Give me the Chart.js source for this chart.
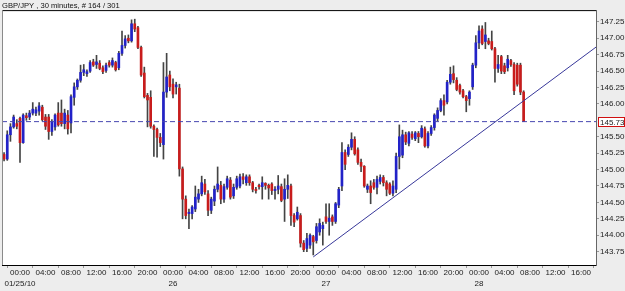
<!DOCTYPE html>
<html><head><meta charset="utf-8">
<script src="https://cdn.jsdelivr.net/npm/chart.js@4.4.1/dist/chart.umd.min.js"></script>
<style>html,body{margin:0;padding:0;background:#ededed;overflow:hidden}</style>
</head><body>
<canvas id="c" width="625" height="291"></canvas>
<script>
// ---- data ----
const chartTitle = 'GBP/JPY , 30 minutes, # 164 / 301';
const firstBarHour = -2.5;   // 21:30 on 01/24/10, hours from 01/25/10 00:00
const barHours = 0.5;        // 30 minute bars
const opens = [145.23,145.16,145.53,145.65,145.70,145.78,145.41,145.82,145.80,145.86,145.86,145.89,145.95,145.80,145.80,145.58,145.65,145.86,145.86,145.70,145.83,145.71,146.10,146.26,146.36,146.48,146.46,146.50,146.64,146.60,146.62,146.55,146.51,146.63,146.59,146.63,146.55,146.77,146.89,147.00,146.96,147.22,147.16,146.86,146.47,146.13,146.10,145.66,145.61,145.49,145.38,146.18,146.44,146.30,146.26,146.24,145.01,144.55,144.33,144.33,144.40,144.55,144.63,144.78,144.63,144.38,144.52,144.70,144.76,144.55,144.73,144.84,144.60,144.73,144.75,144.89,144.80,144.89,144.80,144.70,144.76,144.74,144.79,144.76,144.78,144.68,144.70,144.74,144.55,144.70,144.75,144.30,144.25,144.30,143.88,143.80,143.85,143.98,143.92,144.05,144.10,144.28,144.21,144.28,144.21,144.46,144.75,145.26,145.23,145.34,145.46,145.30,145.11,145.05,144.70,144.75,144.80,144.73,144.82,144.88,144.80,144.78,144.64,144.70,145.20,145.22,145.53,145.40,145.54,145.47,145.55,145.50,145.62,145.36,145.55,145.64,145.78,145.90,146.05,146.03,146.33,146.46,146.36,146.28,146.20,146.11,146.08,146.26,146.59,146.93,147.14,146.95,146.96,146.95,146.84,146.54,146.72,146.58,146.55,146.66,146.60,146.59,146.59,146.18];
const highs = [145.26,145.59,145.70,145.83,145.76,145.80,145.85,145.86,145.90,146.02,145.95,146.02,145.98,145.84,145.84,145.76,145.85,146.02,146.06,145.92,145.90,146.14,146.32,146.38,146.59,146.60,146.52,146.66,146.68,146.74,146.66,146.58,146.62,146.66,146.70,146.65,146.80,147.11,147.04,147.05,147.28,147.29,147.18,146.88,146.56,146.16,146.20,145.68,145.63,145.55,146.63,146.77,146.50,146.38,146.33,146.30,145.04,144.60,144.40,144.45,144.75,144.70,144.90,144.85,144.68,144.58,144.75,145.04,144.82,144.78,144.90,144.88,144.78,144.90,144.93,144.94,144.92,144.92,144.82,144.73,144.78,144.89,144.80,144.78,144.80,144.74,144.91,144.78,144.86,144.92,144.78,144.33,144.43,144.33,143.92,144.03,144.02,144.00,144.18,144.25,144.20,144.48,144.48,144.31,144.50,144.73,145.41,145.30,145.38,145.56,145.50,145.33,145.16,145.06,144.78,144.83,144.85,144.90,144.92,144.91,144.83,144.80,144.83,145.25,145.68,145.60,145.57,145.58,145.58,145.58,145.58,145.67,145.65,145.58,145.67,145.85,145.94,146.08,146.14,146.36,146.56,146.58,146.40,146.30,146.22,146.13,146.20,146.62,147.04,147.19,147.19,147.24,147.00,147.11,146.86,146.74,146.74,146.62,146.74,146.68,146.63,146.62,146.62,146.20];
const lows = [145.13,145.14,145.43,145.63,145.62,145.11,145.40,145.75,145.76,145.83,145.82,145.83,145.74,145.61,145.46,145.52,145.60,145.66,145.66,145.62,145.54,145.56,145.98,146.22,146.33,146.43,146.42,146.48,146.57,146.54,146.52,146.46,146.48,146.56,146.56,146.50,146.52,146.74,146.85,146.93,146.94,147.10,146.84,146.42,146.09,145.65,145.63,145.20,145.19,145.35,145.16,146.10,146.20,146.09,146.15,144.90,144.25,144.25,144.10,144.25,144.36,144.50,144.60,144.62,144.30,144.33,144.45,144.66,144.48,144.50,144.70,144.55,144.56,144.70,144.72,144.78,144.76,144.76,144.66,144.64,144.70,144.55,144.70,144.55,144.62,144.55,144.63,144.51,144.21,144.56,144.15,144.13,144.23,143.82,143.75,143.75,143.80,143.70,143.88,144.00,143.85,144.18,144.00,144.15,144.18,144.42,144.68,145.00,145.20,145.30,145.22,145.08,144.97,144.73,144.65,144.48,144.70,144.63,144.78,144.75,144.60,144.62,144.60,144.65,145.01,145.18,145.38,145.36,145.46,145.44,145.41,145.48,145.34,145.33,145.52,145.60,145.74,145.88,145.83,146.00,146.30,146.32,146.20,146.15,146.09,145.88,145.98,146.22,146.55,146.84,146.90,146.84,146.90,146.82,146.33,146.48,146.46,146.46,146.50,146.57,146.14,146.27,146.14,145.73];
const closes = [145.16,145.53,145.65,145.80,145.66,145.41,145.83,145.79,145.86,145.92,145.91,145.97,145.76,145.66,145.58,145.73,145.83,145.68,145.70,145.86,145.62,146.11,146.26,146.36,146.48,146.52,146.49,146.63,146.59,146.64,146.54,146.49,146.59,146.59,146.66,146.52,146.77,146.89,146.99,146.96,147.22,147.14,146.86,146.44,146.11,146.06,145.66,145.61,145.49,145.41,146.18,146.41,146.26,146.15,146.29,145.01,144.55,144.30,144.35,144.43,144.58,144.63,144.80,144.66,144.38,144.55,144.70,144.78,144.55,144.74,144.86,144.58,144.73,144.86,144.89,144.85,144.89,144.80,144.70,144.68,144.74,144.80,144.76,144.72,144.68,144.70,144.75,144.53,144.70,144.76,144.30,144.20,144.35,143.88,143.78,143.95,144.00,143.90,144.13,144.18,144.15,144.21,144.26,144.21,144.48,144.70,145.26,145.08,145.34,145.46,145.24,145.11,145.05,144.75,144.75,144.65,144.73,144.85,144.88,144.80,144.70,144.64,144.75,145.20,145.50,145.53,145.42,145.56,145.49,145.56,145.50,145.63,145.36,145.55,145.64,145.83,145.90,146.05,145.98,146.33,146.45,146.37,146.22,146.18,146.11,146.05,146.18,146.59,146.93,147.11,146.92,147.05,146.92,146.84,146.54,146.60,146.50,146.49,146.68,146.60,146.20,146.30,146.18,145.73];
const priceTicks = [143.75,144.00,144.25,144.50,144.75,145.00,145.25,145.50,146.00,146.25,146.50,146.75,147.00,147.25];
const timeTickHours = [0,4,8,12,16,20,24,28,32,36,40,44,48,52,56,60,64,68,72,76,80,84,88];
const dayLabels = {0:'01/25/10', 24:'26', 48:'27', 72:'28'};
const lastPrice = 145.73;
const trendStart = {hour:46.0, price:143.67};
const trendEnd = {hour:90.35, price:146.865};
const xMin = -2.824, xMax = 90.35;
const yMin = 143.547, yMax = 147.428;

// ---- build ----
const UP = '#2222c8', DOWN = '#c81c1c', WICK = '#444444';
const hours = opens.map((_, i) => firstBarHour + i * barHours);
const wickData = hours.map((h, i) => ({x: h, y: [lows[i], highs[i]]}));
const bodyData = hours.map((h, i) => ({x: h, y: [Math.min(opens[i], closes[i]), Math.max(opens[i], closes[i])]}));
const bodyColors = opens.map((o, i) => closes[i] >= o ? UP : DOWN);
const FONT = 'Liberation Sans';

const decor = {
  id: 'decor',
  beforeDraw(chart) {
    const {ctx, chartArea: a} = chart;
    ctx.save();
    ctx.fillStyle = '#ededed';
    ctx.fillRect(0, 0, chart.width, chart.height);
    ctx.fillStyle = '#ffffff';
    ctx.fillRect(a.left, a.top, a.right - a.left, a.bottom - a.top);
    ctx.restore();
  },
  afterDraw(chart) {
    const {ctx, chartArea: a} = chart;
    const ys = chart.scales.y;
    ctx.save();
    ctx.strokeStyle = '#000';
    ctx.lineWidth = 1;
    ctx.beginPath(); ctx.moveTo(a.left, a.top + 0.5); ctx.lineTo(a.right, a.top + 0.5); ctx.stroke();
    ctx.strokeStyle = '#8a8a8a';
    ctx.beginPath(); ctx.moveTo(a.left + 0.5, a.top); ctx.lineTo(a.left + 0.5, a.bottom); ctx.stroke();
    const py = Math.round(ys.getPixelForValue(lastPrice));
    ctx.fillStyle = '#fff';
    ctx.fillRect(a.right + 2, py - 4, 26, 9);
    ctx.strokeStyle = '#d01010';
    ctx.strokeRect(a.right + 2.5, py - 4.5, 26, 9);
    ctx.fillStyle = '#222';
    ctx.font = '8px "' + FONT + '"';
    ctx.textBaseline = 'middle';
    ctx.textAlign = 'left';
    ctx.fillText(lastPrice.toFixed(2), a.right + 4, py + 0.5);
    ctx.restore();
  }
};

new Chart(document.getElementById('c'), {
  type: 'bar',
  data: {
    datasets: [
      {type: 'line', label: 'level', data: [{x: xMin, y: lastPrice}, {x: xMax, y: lastPrice}],
       borderColor: '#4646b0', borderWidth: 1, borderDash: [5, 3], pointRadius: 0, order: 0},
      {type: 'line', label: 'trend', data: [{x: trendStart.hour, y: trendStart.price}, {x: trendEnd.hour, y: trendEnd.price}],
       borderColor: '#38389a', borderWidth: 1, pointRadius: 0, order: 0},
      {label: 'body', data: bodyData, backgroundColor: bodyColors, barThickness: 2, minBarLength: 1, grouped: false, order: 1},
      {label: 'wick', data: wickData, backgroundColor: WICK, barThickness: 1, grouped: false, order: 2}
    ]
  },
  options: {
    responsive: false,
    animation: false,
    devicePixelRatio: 1,
    layout: {padding: {left: 2, right: 0, top: 0, bottom: 0}},
    plugins: {
      legend: {display: false},
      tooltip: {enabled: false},
      title: {display: true, text: chartTitle, align: 'start', color: '#111',
              font: {family: FONT, size: 7.6, weight: 'normal'}, padding: {top: 1, bottom: 0}}
    },
    scales: {
      x: {
        type: 'linear', min: xMin, max: xMax, offset: false,
        afterBuildTicks: s => { s.ticks = timeTickHours.map(v => ({value: v})); },
        afterFit: s => { s.height = 26; },
        ticks: {
          autoSkip: false, maxRotation: 0, padding: 0, color: '#222',
          font: {family: FONT, size: 8, lineHeight: 1.3},
          callback: v => [String(((v % 24) + 24) % 24).padStart(2, '0') + ':00', dayLabels[v] || '']
        },
        grid: {display: true, drawOnChartArea: false, drawTicks: true, tickLength: 3, color: '#999'},
        border: {display: true, color: '#000', width: 1}
      },
      y: {
        position: 'right', min: yMin, max: yMax,
        afterBuildTicks: s => { s.ticks = priceTicks.map(v => ({value: v})); },
        afterFit: s => { s.width = 29; },
        ticks: {padding: 1, color: '#222', font: {family: FONT, size: 8}, callback: v => v.toFixed(2)},
        grid: {display: true, drawOnChartArea: false, drawTicks: true, tickLength: 3, color: '#999'},
        border: {display: true, color: '#666', width: 1}
      }
    }
  },
  plugins: [decor]
});
</script>
</body></html>
